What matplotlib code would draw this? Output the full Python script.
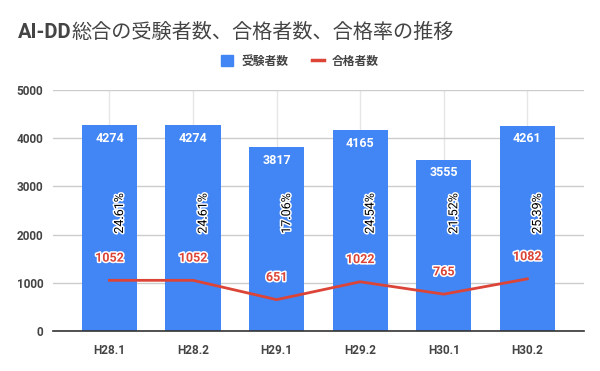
import matplotlib
import matplotlib.pyplot as plt
import matplotlib.patheffects as pe
from matplotlib.lines import Line2D
from matplotlib.patches import Patch

matplotlib.use("Agg")

# Data
periods = ["H28.1", "H28.2", "H29.1", "H29.2", "H30.1", "H30.2"]
examinees = [4274, 4274, 3817, 4165, 3555, 4261]
passed = [1052, 1052, 651, 1022, 765, 1082]
pass_rates = ["24.61%", "24.61%", "17.06%", "24.54%", "21.52%", "25.39%"]

BLUE = "#4285F4"
RED = "#DB4437"
TEXT = "#444444"
JP = ["Roboto", "Noto Sans CJK JP", "DejaVu Sans"]

plt.rcParams["font.family"] = JP

fig = plt.figure(figsize=(6.0, 3.71), dpi=100)
ax = fig.add_axes([0.0883, 0.1078, 0.8847, 0.6492])

x = list(range(len(periods)))

# Bars for number of examinees
ax.bar(x, examinees, width=0.66, color=BLUE, zorder=2)

# Line for number passed
ax.plot(x, passed, color=RED, linewidth=2, zorder=3)

# White value labels inside top of bars
for xi, v in zip(x, examinees):
    ax.annotate(
        f"{v}", (xi, v), xytext=(0, -9.5), textcoords="offset points",
        ha="center", va="center", color="white", fontsize=9,
        fontweight="bold", zorder=5,
    )

# Pass-rate labels, rotated
outline = [pe.withStroke(linewidth=2.2, foreground="white")]
for xi, r in zip(x, pass_rates):
    ax.text(
        xi + 0.12, 2440, r, rotation=90, ha="center", va="center",
        fontsize=9, color="black", path_effects=outline, zorder=5,
    )

# Red labels for number passed
for xi, v in zip(x, passed):
    ax.annotate(
        f"{v}", (xi, v), xytext=(0, 16), textcoords="offset points",
        ha="center", va="center", color=RED, fontsize=9,
        fontweight="bold", path_effects=outline, zorder=5,
    )

# Axes styling
ax.set_xlim(-0.676, 5.676)
ax.set_ylim(0, 5000)
ax.set_yticks(range(0, 5001, 1000))
ax.set_xticks(x)
ax.set_xticklabels(periods, fontweight="bold")
ax.tick_params(axis="both", length=0, colors=TEXT, labelsize=8.5)
ax.tick_params(axis="x", pad=9)
ax.tick_params(axis="y", pad=7)
for lbl in ax.get_yticklabels():
    lbl.set_fontweight("bold")

ax.grid(True, axis="y", color="#cccccc", linewidth=1, zorder=0)
ax.grid(True, axis="x", color="#e6e6e6", linewidth=1, zorder=0)
ax.set_axisbelow(True)
for side in ["top", "right", "left"]:
    ax.spines[side].set_visible(False)
ax.spines["bottom"].set_color("#333333")
ax.spines["bottom"].set_linewidth(1.2)
ax.spines["bottom"].set_zorder(4)

# Title: Latin part bold, Japanese part regular
t1 = fig.text(0.03, 0.912, "AI-DD", fontsize=14.5, fontweight="bold",
              color=TEXT, va="center", ha="left", family=JP)
fig.canvas.draw()
bb = t1.get_window_extent()
fig.text(bb.x1 / fig.bbox.width, 0.912,
         "総合の受験者数、合格者数、合格率の推移", fontsize=14.5,
         color=TEXT, va="center", ha="left", family=JP)

# Legend
handles = [
    Patch(facecolor=BLUE, edgecolor=BLUE),
    Line2D([0], [0], color=RED, linewidth=2.5),
]
fig.legend(
    handles, ["受験者数", "合格者数"], loc="center", ncol=2,
    bbox_to_anchor=(0.5, 0.835), frameon=False, handlelength=1.0,
    handleheight=1.0, columnspacing=2.0, handletextpad=0.7,
    prop={"family": JP, "weight": "bold", "size": 8.5},
    labelcolor=TEXT,
)

fig.savefig("out.png", dpi=100)
plt.close(fig)
